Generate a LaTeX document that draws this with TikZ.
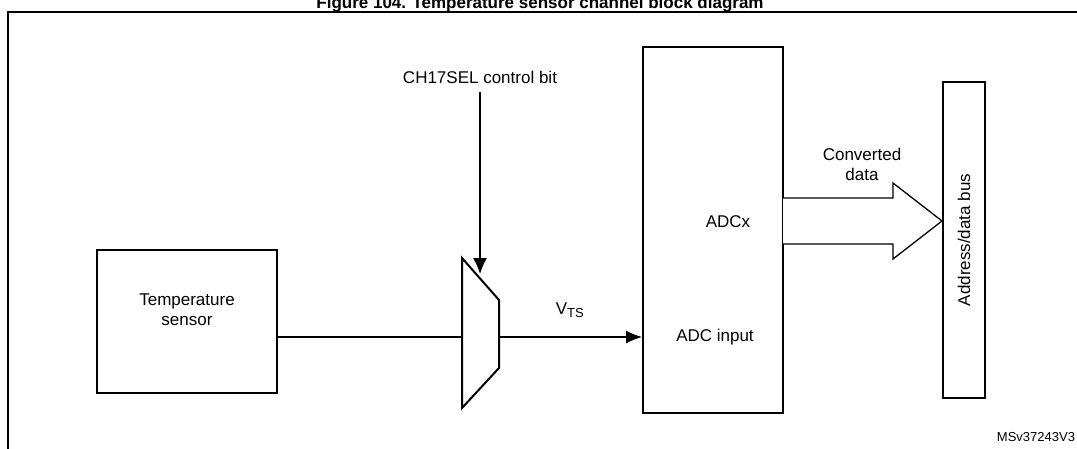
\documentclass[tikz,border=0pt]{standalone}
\usepackage{fontspec}
\setmainfont{Liberation Sans}
\usetikzlibrary{arrows.meta}
\begin{document}
\begin{tikzpicture}[x=1pt,y=-1pt,line width=2pt,
  lbl/.style={font=\fontsize{17}{20}\selectfont,inner sep=0pt,align=center},
  blk/.style={draw,line width=2pt,inner sep=0pt}]
\useasboundingbox (0,0) rectangle (1077,448);
\node[font=\bfseries\fontsize{17}{20}\selectfont,anchor=base] (title) at (540,8) {Figure 104. Temperature sensor channel block diagram};
\draw[line width=2.2pt] (1080,12) -- (8,12) -- (8,452);
\node[blk,minimum width=180pt,minimum height=143pt] (ts) at (187,321.5) {};
\node[lbl] (tst) at (187,310) {Temperature\\sensor};
\node[blk,minimum width=140pt,minimum height=366pt] (adc) at (713,230) {};
\node[lbl] (adcx) at (728,222) {ADCx};
\node[lbl] (adcin) at (715,337) {ADC input};
\node[blk,minimum width=42pt,minimum height=316pt] (bus) at (964,240) {};
\node[lbl,rotate=90] (bust) at (964,240) {Address/data bus};
\coordinate (m1) at (462,258); \coordinate (m2) at (499,300);
\coordinate (m3) at (499,368); \coordinate (m4) at (462,408);
\draw[line width=2pt] (m1) -- (m2) -- (m3) -- (m4) -- cycle;
\coordinate (min) at (462,337); \coordinate (mout) at (499,337);
\draw[line width=1.2pt] (ts.east |- min) -- (min);
\draw[line width=1.2pt,-{Latex[length=16pt,width=13pt]}] (mout) -- (adc.west |- mout);
\node[lbl] (vts) at (570,310) {V\textsubscript{\fontsize{13}{15}\selectfont TS}};
\node[lbl] (ch) at (480,77) {CH17SEL control bit};
\coordinate (chtip) at (480,274);
\draw[line width=1.2pt,-{Latex[length=16pt,width=14pt]}] (ch.south) ++(0,8) -- (chtip);
\draw[line width=1.3pt,fill=white] (783,198) -- (893,198) -- (893,183) -- (bus.west |- 0,221) -- (893,259) -- (893,244) -- (783,244);
\node[lbl] (cd) at (862,164) {Converted\\data};
\node[font=\fontsize{13}{15}\selectfont,anchor=east,inner sep=0pt] (id) at (1076,437) {MSv37243V3};
\end{tikzpicture}
\end{document}
